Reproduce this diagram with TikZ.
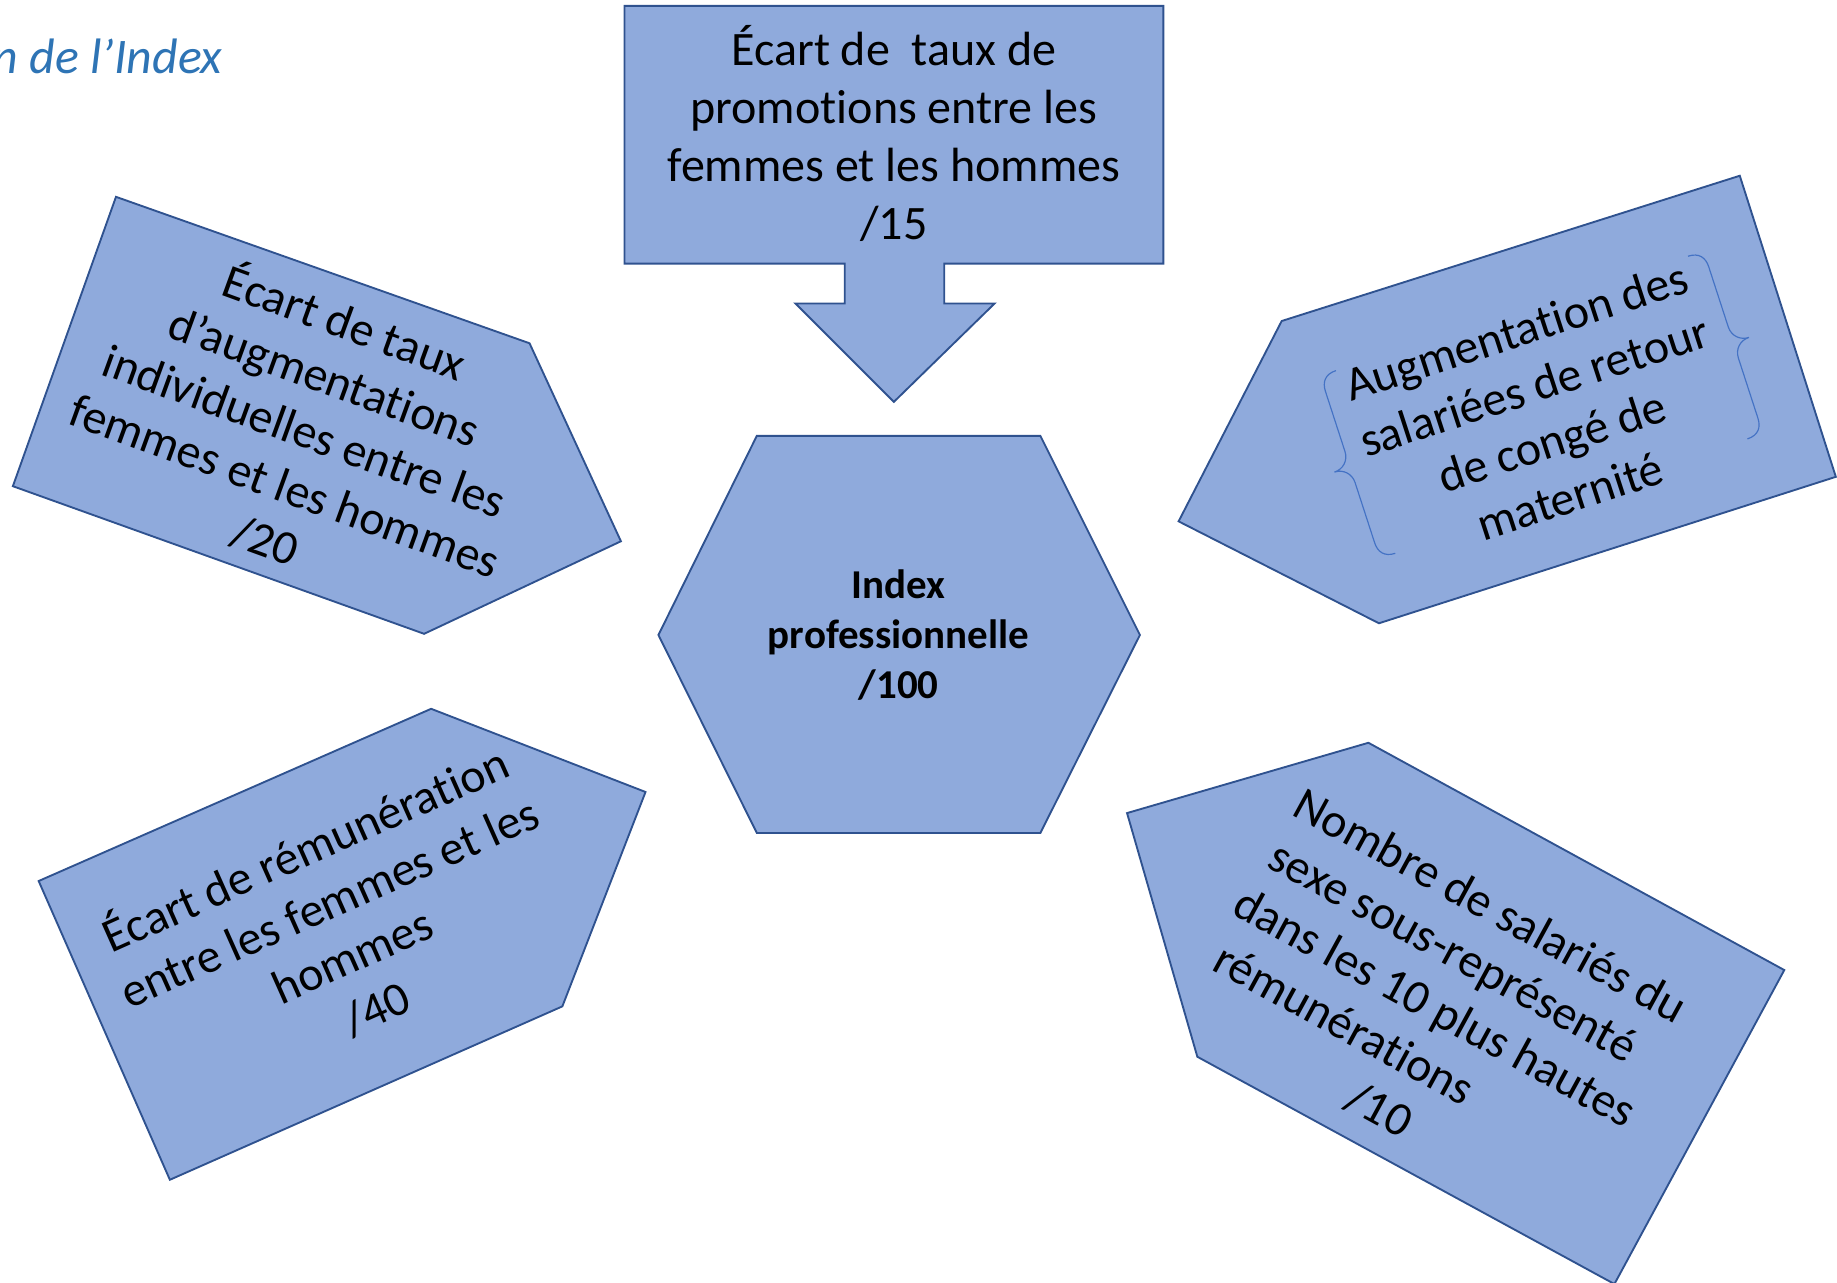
\documentclass[tikz,border=0pt]{standalone}
\usepackage{fontspec}
\setmainfont{Carlito}[Ligatures=NoCommon]
\definecolor{shapefill}{HTML}{8FAADC}
\definecolor{shapeline}{HTML}{2F528F}
\definecolor{titleblue}{HTML}{2E74B5}
\definecolor{bracecol}{HTML}{4472C4}
\begin{document}
\begin{tikzpicture}[x=1pt,y=-1pt,
  shapebox/.style={fill=shapefill,draw=shapeline,line width=1.6pt,line join=miter},
  lbl/.style={align=center,font=\fontsize{41}{49.5}\selectfont,inner sep=0pt},
  bracestyle/.style={draw=bracecol,line width=1pt}]
\useasboundingbox (0,0) rectangle (1568,1095);

% title (cropped)
\node[anchor=base east,font=\itshape\fontsize{42.5}{50}\selectfont,text=titleblue,inner sep=0pt] (title) at (190,63) {n de l’Index};

% top callout with down arrow
\draw[shapebox] (533,5) -- (993,5) -- (993,225) -- (806,225) -- (806,259) -- (849,259) -- (763,343) -- (679,259) -- (721,259) -- (721,225) -- (533,225) -- cycle;
\node[lbl] (promo) at (763,114) {Écart de\ \ taux de\\promotions entre les\\femmes et les hommes\\/15};

% hexagon
\draw[shapebox] (646,372) -- (888,372) -- (973,542) -- (888,711) -- (646,711) -- (562,542) -- cycle;
\node[lbl,font=\bfseries\fontsize{35}{43}\selectfont] (index) at (767,542) {Index\\professionnelle\\/100};

% top-left pentagon
\draw[shapebox] (99,168) -- (452,293) -- (530,462) -- (362,541) -- (11,415) -- cycle;
\node[lbl,rotate=-20] (augm) at (261,366) {Écart de taux\\d’augmentations\\individuelles entre les\\femmes et les hommes\\/20};

% top-right pentagon
\draw[shapebox] (1485,150) -- (1567,407) -- (1177,532) -- (1006,445) -- (1094,274) -- cycle;
\node[lbl,rotate=18] (mater) at (1317,353) {Augmentation des\\salariées de retour\\de congé de\\maternité};
\begin{scope}[shift={(1319,355)},rotate=18]
  \draw[bracestyle] (-158,-92) .. controls (-168,-92) and (-172,-86) .. (-172,-78) -- (-172,-24) .. controls (-172,-16) and (-178,-10) .. (-186,-10) .. controls (-178,-10) and (-172,-4) .. (-172,4) -- (-172,58) .. controls (-172,66) and (-168,72) .. (-158,72);
  \draw[bracestyle] (158,-92) .. controls (168,-92) and (172,-86) .. (172,-78) -- (172,-24) .. controls (172,-16) and (178,-10) .. (186,-10) .. controls (178,-10) and (172,-4) .. (172,4) -- (172,58) .. controls (172,66) and (168,72) .. (158,72);
\end{scope}

% bottom-right pentagon
\draw[shapebox] (1168,634) -- (1523,828) -- (1378,1096) -- (1022,902) -- (962,694) -- cycle;
\node[lbl,rotate=-28.6] (nombre) at (1225,860) {Nombre de salariés du\\\makebox[370pt][l]{sexe sous-représenté}\\dans les 10 plus hautes\\\makebox[368pt][l]{rémunérations}\\/10};

% bottom-left pentagon
\draw[shapebox] (368,605) -- (551,676) -- (480,859) -- (145,1007) -- (33,752) -- cycle;
\node[lbl,rotate=24] (remu) at (290,791) {Écart de rémunération\\entre les femmes et les\\hommes\\/40};
\end{tikzpicture}
\end{document}
